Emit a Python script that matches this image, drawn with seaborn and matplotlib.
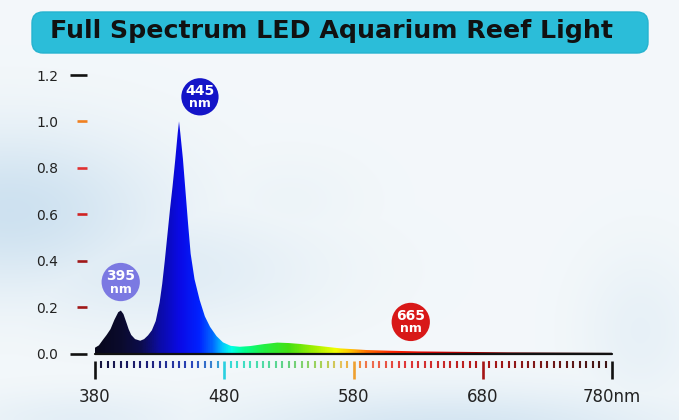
import numpy as np
import pandas as pd
import matplotlib
matplotlib.use("Agg")
import matplotlib.pyplot as plt
import seaborn as sns
from matplotlib.colors import LinearSegmentedColormap
from matplotlib.patches import FancyBboxPatch

# ---------------- data ----------------
wavelength = [380, 383, 386, 389, 392, 395, 398, 400, 402, 404.5, 406, 408, 411, 415,
              418, 421, 424, 427, 430, 432, 434, 436, 438, 440, 442, 444, 445, 446,
              448, 450, 452, 454, 457, 461, 465, 469, 474, 479, 485, 492, 500, 510,
              521, 530, 539, 554, 570, 590, 608, 630, 665, 700, 740, 780]
intensity = [0.025, 0.035, 0.058, 0.080, 0.105, 0.145, 0.178, 0.185, 0.170, 0.130, 0.105,
             0.080, 0.062, 0.055, 0.062, 0.078, 0.100, 0.140, 0.220, 0.300, 0.400, 0.510,
             0.620, 0.720, 0.830, 0.950, 1.000, 0.950, 0.840, 0.700, 0.560, 0.430, 0.320,
             0.230, 0.160, 0.115, 0.075, 0.048, 0.033, 0.029, 0.032, 0.040, 0.047, 0.045,
             0.041, 0.032, 0.022, 0.015, 0.012, 0.009, 0.007, 0.005, 0.004, 0.003]
x_major = [380, 480, 580, 680, 780]
x_labels = ["380", "480", "580", "680", "780nm"]
y_long_ticks = [0.0, 1.2]
y_long_labels = ["0.0", "1.2"]
y_short_ticks = [0.2, 0.4, 0.6, 0.8, 1.0]
y_short_labels = ["0.2", "0.4", "0.6", "0.8", "1.0"]
peak_labels = ["395", "445", "665"]
title = "Full Spectrum LED Aquarium Reef Light"

df = pd.DataFrame({"wavelength": wavelength, "intensity": intensity})

# ---------------- style ----------------
sns.set_theme(style="white")
plt.rcParams["font.family"] = ["DejaVu Sans"]

W, H = 679, 420
fig = plt.figure(figsize=(W / 100, H / 100), dpi=100)

# background
bg = fig.add_axes([0, 0, 1, 1])
yy, xx = np.mgrid[0:H, 0:W]
base = np.array([0.955, 0.972, 0.982])
blue = np.array([0.80, 0.88, 0.94])
w = np.zeros((H, W))
for cx, cy, sx, sy, a in [(10, 210, 150, 80, 0.95), (150, 270, 170, 60, 0.5),
                          (290, 200, 80, 50, 0.15), (450, 430, 220, 40, 0.8),
                          (80, 420, 120, 30, 0.4), (640, 330, 60, 80, 0.3)]:
    w = np.maximum(w, a * np.exp(-(((xx - cx) / sx) ** 2 + ((yy - cy) / sy) ** 2)))
img = base[None, None, :] * (1 - w[..., None]) + blue[None, None, :] * w[..., None]
bg.imshow(img, extent=[0, W, H, 0], aspect="auto", zorder=0)
bg.set_xlim(0, W)
bg.set_ylim(H, 0)
bg.axis("off")

box = FancyBboxPatch((32, 12), 616, 41, boxstyle="round,pad=0,rounding_size=11",
                     fc="#2bbdd9", ec="#25b3cf", lw=1, zorder=2)
bg.add_patch(box)
bg.text(331, 38.3, title, ha="center", va="baseline", fontsize=18.2, fontweight="bold",
        color="#111111", family=["DejaVu Sans"], zorder=3)

# main axes (pixel-based placement)
px_per_nm = (612 - 95) / 400.0
px_per_unit = (353.5 - 75) / 1.2
left_px, right_px, top_px, bottom_px = 87, 620, 70, 361
ax = fig.add_axes([left_px / W, (H - bottom_px) / H, (right_px - left_px) / W,
                   (bottom_px - top_px) / H])
ax.patch.set_alpha(0)

spec_stops = [(380, "#08081c"), (400, "#0b0b2e"), (415, "#0c0c4c"), (430, "#0c0ca8"),
              (445, "#0a0ae6"), (460, "#0022ff"), (470, "#0066ff"), (478, "#00c4ff"),
              (485, "#00ffe6"), (495, "#00ff90"), (510, "#22f044"), (530, "#44e012"),
              (550, "#a4f000"), (566, "#f2ff00"), (576, "#ffcc00"), (590, "#ff7000"),
              (610, "#ff2400"), (640, "#e00000"), (680, "#a00000"), (720, "#500000"),
              (780, "#1a0000")]
spec_cmap = LinearSegmentedColormap.from_list(
    "spec", [((s - 380) / 400, c) for s, c in spec_stops])

poly = ax.fill_between(df["wavelength"], df["intensity"], 0, color="none", lw=0)
xs = np.linspace(0, 1, 800)
grad = spec_cmap(xs)[None, :, :3]
im = ax.imshow(grad, extent=[min(wavelength), max(wavelength), 0, 1.05],
               aspect="auto", interpolation="bilinear", zorder=2)
im.set_clip_path(poly.get_paths()[0], transform=ax.transData)
sns.lineplot(x=[min(wavelength), max(wavelength)], y=[0, 0], ax=ax,
             color="#111111", lw=1.6, zorder=3)

ax.set_xlim(380 - (95 - left_px) / px_per_nm, 780 + (right_px - 612) / px_per_nm)
ax.set_ylim(-(bottom_px - 353.5) / px_per_unit, 1.2 + (75 - top_px) / px_per_unit)
for s in ax.spines.values():
    s.set_visible(False)
ax.grid(False)

# x ticks
minor_locs = [v for v in range(385, 780, 5) if v not in x_major]
ax.set_xticks(x_major)
ax.set_xticklabels(x_labels)
ax.set_xticks(minor_locs, minor=True)
ax.tick_params(axis="x", which="major", direction="out", length=13, width=1.9,
               pad=6.5, labelsize=12, labelcolor="#222222", bottom=True)
ax.tick_params(axis="x", which="minor", direction="out", length=5.2, width=1.5,
               bottom=True)
tick_stops = [(380, "#141438"), (420, "#1e1e7a"), (455, "#2a46bc"), (472, "#3c8ad2"),
              (480, "#30d8e0"), (500, "#44e0b8"), (530, "#66d080"), (555, "#a6d256"),
              (570, "#e6c25a"), (580, "#f0a030"), (592, "#f07050"), (620, "#e03838"),
              (680, "#b01818"), (720, "#801818"), (780, "#3a1616")]
tick_cmap = LinearSegmentedColormap.from_list(
    "ticks", [((s - 380) / 400, c) for s, c in tick_stops])
major_cols = ["#111111", "#2ad0e0", "#eea030", "#a41414", "#111111"]
for t, c in zip(ax.xaxis.get_major_ticks(len(x_major)), major_cols):
    t.tick1line.set_markeredgecolor(c)
for t, loc in zip(ax.xaxis.get_minor_ticks(len(minor_locs)), minor_locs):
    t.tick1line.set_markeredgecolor(tick_cmap((loc - 380) / 400))

# y ticks: long black ones as major, short coloured ones as minor
ax.set_yticks(y_long_ticks)
ax.set_yticklabels(y_long_labels)
ax.set_yticks(y_short_ticks, minor=True)
ax.set_yticklabels(y_short_labels, minor=True)
ax.tick_params(axis="y", which="major", direction="out", length=12.2, width=1.9,
               pad=8.6, labelsize=10, labelcolor="#222222", left=True)
ax.tick_params(axis="y", which="minor", direction="out", length=7.2, width=1.9,
               pad=13.6, labelsize=10, labelcolor="#222222", left=True)
y_short_cols = ["#a01818", "#a01818", "#d02222", "#e03030", "#f08020"]
for t in ax.yaxis.get_major_ticks(len(y_long_ticks)):
    t.tick1line.set_markeredgecolor("#111111")
for t, c in zip(ax.yaxis.get_minor_ticks(len(y_short_ticks)), y_short_cols):
    t.tick1line.set_markeredgecolor(c)

# peak badges
badge_pos = [(399.9, 0.308), (461.2, 1.106), (624.3, 0.136)]
badge_cols = ["#7b79e2", "#1414c8", "#d81818"]
badge_sizes = [760, 720, 760]
up = 6.0 / px_per_unit
down = 7.0 / px_per_unit
for lab, (bx, by), c, s in zip(peak_labels, badge_pos, badge_cols, badge_sizes):
    ax.scatter([bx], [by], s=s, color=c, edgecolor="none", zorder=5, clip_on=False)
    ax.text(bx, by + up, lab, ha="center", va="center", color="white",
            fontsize=10, fontweight="bold", zorder=6)
    ax.text(bx, by - down, "nm", ha="center", va="center", color="white",
            fontsize=9, fontweight="bold", zorder=6)

fig.savefig("out.png", dpi=100)
